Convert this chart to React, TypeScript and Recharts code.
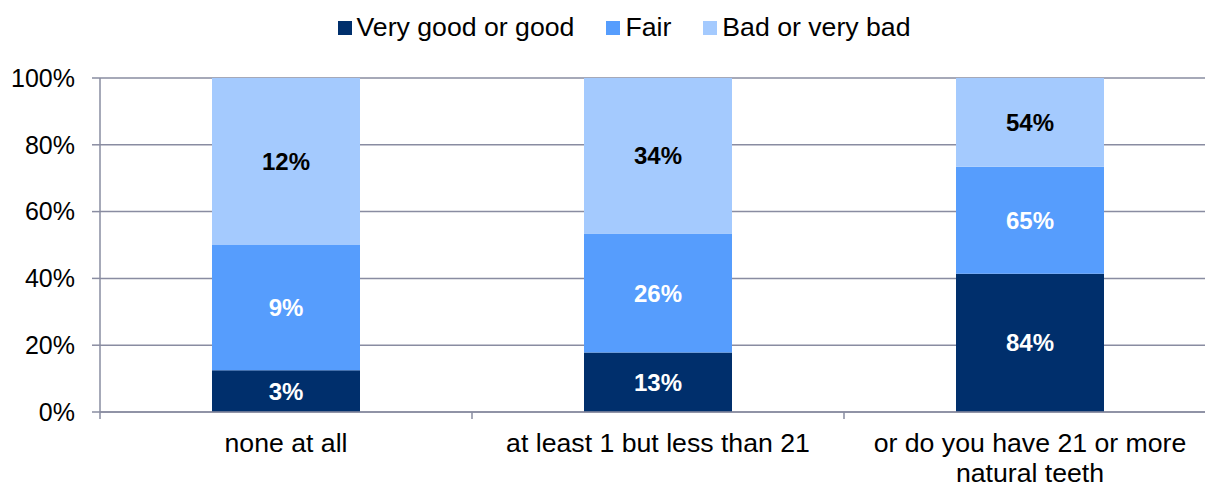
import React from 'react';
import { BarChart, Bar, XAxis, YAxis, CartesianGrid, Legend, LabelList } from 'recharts';

const categories = ['none at all', 'at least 1 but less than 21', 'or do you have 21 or more natural teeth'];
const seriesNames = ['Very good or good', 'Fair', 'Bad or very bad'];
const veryGoodOrGood = [3, 13, 84];
const fair = [9, 26, 65];
const badOrVeryBad = [12, 34, 54];
const yTicks = [0, 0.2, 0.4, 0.6, 0.8, 1];

const data = categories.map((c, i) => ({
  category: c,
  good: veryGoodOrGood[i],
  fair: fair[i],
  bad: badOrVeryBad[i],
}));

const FONT = '"Liberation Sans", Arial, sans-serif';
const AXIS = '#898ca1';
const COLORS = ['#002f6c', '#569dfd', '#a4cafe'];
const X_FONT_SIZE = 26.67;

let ctx: CanvasRenderingContext2D | null = null;
const measure = (s: string) => {
  if (!ctx && typeof document !== 'undefined') {
    ctx = document.createElement('canvas').getContext('2d');
  }
  if (!ctx) return s.length * X_FONT_SIZE * 0.5;
  ctx.font = `${X_FONT_SIZE}px ${FONT}`;
  return ctx.measureText(s).width;
};

const wrap = (text: string, maxWidth: number) => {
  const words = text.split(' ');
  const lines: string[] = [];
  let cur = '';
  words.forEach((w) => {
    const next = cur ? `${cur} ${w}` : w;
    if (cur && measure(next) > maxWidth) {
      lines.push(cur);
      cur = w;
    } else {
      cur = next;
    }
  });
  if (cur) lines.push(cur);
  return lines;
};

const XTick = (props: any) => {
  const { x, y, payload } = props;
  const half = payload && payload.offset ? payload.offset : 186;
  const isLast = payload.index === categories.length - 1;
  const lines = wrap(String(payload.value), half * 2 - 20);
  return (
    <g>
      <line x1={x - half} y1={y} x2={x - half} y2={y + 7} stroke={AXIS} strokeWidth={1.5} />
      {isLast && <line x1={x + half} y1={y} x2={x + half} y2={y + 7} stroke={AXIS} strokeWidth={1.5} />}
      <text x={x} y={y + 40} textAnchor="middle" fill="#000" style={{ fontSize: X_FONT_SIZE, fontFamily: FONT }}>
        {lines.map((l, i) => (
          <tspan key={i} x={x} dy={i === 0 ? 0 : 30}>
            {l}
          </tspan>
        ))}
      </text>
    </g>
  );
};

const renderLegend = () => (
  <div
    style={{
      display: 'flex',
      justifyContent: 'center',
      alignItems: 'center',
      fontFamily: FONT,
      fontSize: 26.67,
      lineHeight: '31px',
      color: '#000',
    }}
  >
    {seriesNames.map((n, i) => (
      <div key={n} style={{ display: 'flex', alignItems: 'center', marginRight: i < seriesNames.length - 1 ? 32 : 0 }}>
        <span style={{ width: 14, height: 14, background: COLORS[i], marginRight: 5, display: 'inline-block' }} />
        <span>{n}</span>
      </div>
    ))}
  </div>
);

const labelStyle = { fontSize: 24, fontWeight: 'bold' as const, fontFamily: FONT };

export default function App() {
  return (
    <div style={{ position: 'absolute', left: 0, top: 0, width: 1205, height: 485, overflow: 'hidden', background: '#fff' }}>
      <BarChart
        width={1225}
        height={485}
        data={data}
        stackOffset="expand"
        margin={{ top: 78, right: 9, bottom: 0, left: 0 }}
        style={{ fontFamily: FONT }}
      >
        <CartesianGrid vertical={false} stroke={AXIS} strokeWidth={1.5} />
        <XAxis
          dataKey="category"
          interval={0}
          height={73}
          tickSize={0}
          tickMargin={0}
          tickLine={false}
          axisLine={{ stroke: AXIS, strokeWidth: 1.5 }}
          tick={<XTick />}
        />
        <YAxis
          type="number"
          domain={[0, 1]}
          ticks={yTicks}
          width={100}
          tickSize={8}
          tickMargin={17}
          tickFormatter={(v: number) => `${Math.round(v * 100)}%`}
          axisLine={{ stroke: AXIS, strokeWidth: 1.5 }}
          tickLine={{ stroke: AXIS, strokeWidth: 1.5 }}
          tick={{ fontSize: 25, fill: '#000', fontFamily: FONT }}
        />
        <Legend
          layout="horizontal"
          verticalAlign="middle"
          align="center"
          content={renderLegend}
          wrapperStyle={{ top: 12, left: 0, width: 1248 }}
        />
        <Bar dataKey="good" name={seriesNames[0]} stackId="a" fill={COLORS[0]} barSize={148} isAnimationActive={false}>
          <LabelList dataKey="good" position="center" formatter={(v: any) => `${v}%`} fill="#fff" style={labelStyle} />
        </Bar>
        <Bar dataKey="fair" name={seriesNames[1]} stackId="a" fill={COLORS[1]} barSize={148} isAnimationActive={false}>
          <LabelList dataKey="fair" position="center" formatter={(v: any) => `${v}%`} fill="#fff" style={labelStyle} />
        </Bar>
        <Bar dataKey="bad" name={seriesNames[2]} stackId="a" fill={COLORS[2]} barSize={148} isAnimationActive={false}>
          <LabelList dataKey="bad" position="center" formatter={(v: any) => `${v}%`} fill="#000" style={labelStyle} />
        </Bar>
      </BarChart>
    </div>
  );
}
